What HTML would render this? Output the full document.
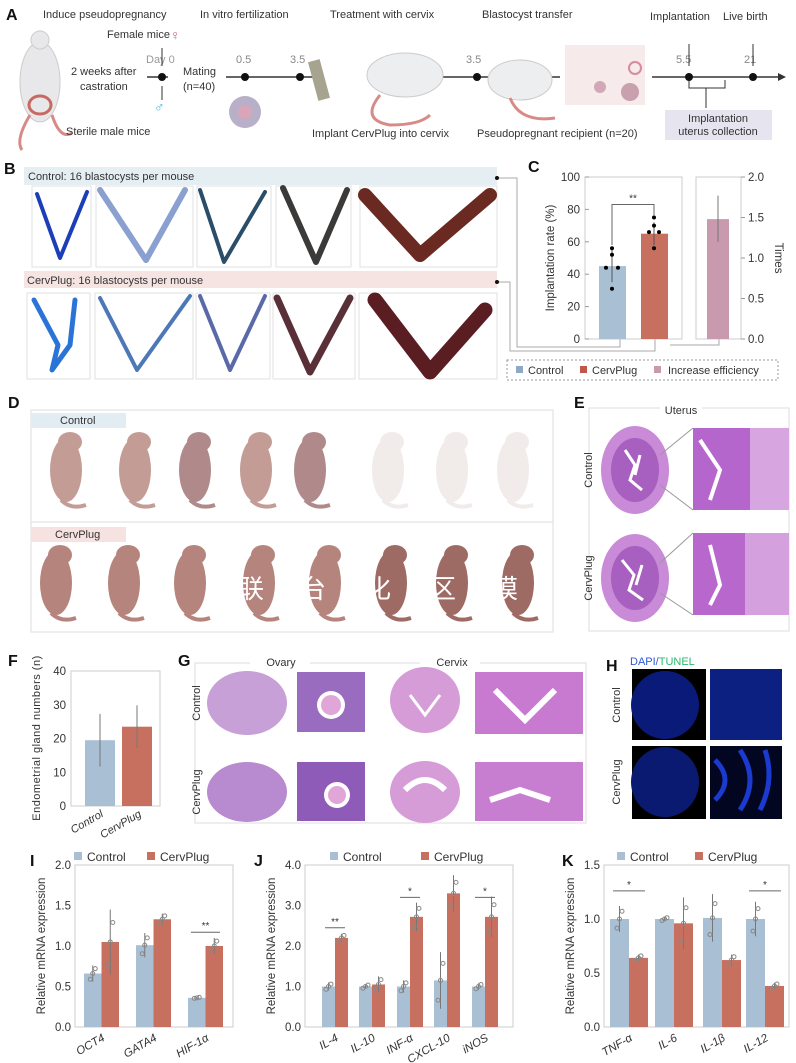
<!DOCTYPE html>
<html><head><meta charset="utf-8"><style>
html,body{margin:0;padding:0;background:#fff;}
svg{display:block;font-family:"Liberation Sans","Noto Sans CJK SC",sans-serif;}
.t{fill:#333;font-size:11px}
.L{font-weight:bold;font-size:16px;fill:#111}
</style></head><body>
<svg id="s" width="796" height="1063" viewBox="0 0 796 1063" xmlns="http://www.w3.org/2000/svg">
<rect width="796" height="1063" fill="#fff"/>
<text class="L" x="6" y="20">A</text>
<g>
<ellipse cx="40" cy="82" rx="20" ry="40" fill="#e8e8ea" stroke="#ccc"/>
<circle cx="40" cy="40" r="9" fill="#e8e8ea" stroke="#ccc"/>
<path d="M30 115 q-15 25 -8 35 M52 115 q8 25 20 18" stroke="#d98a86" stroke-width="3" fill="none"/>
<ellipse cx="40" cy="105" rx="11" ry="9" fill="none" stroke="#c76a63" stroke-width="3"/>
</g>
<g class="t" font-size="11">
<text x="43" y="18">Induce pseudopregnancy</text>
<text x="200" y="18">In vitro fertilization</text>
<text x="330" y="18">Treatment with cervix</text>
<text x="482" y="18">Blastocyst transfer</text>
<text x="650" y="20">Implantation</text>
<text x="723" y="20">Live birth</text>
<text x="107" y="38">Female mice</text>
<text x="146" y="63" fill="#999">Day 0</text>
<text x="71" y="75">2 weeks after</text>
<text x="80" y="90">castration</text>
<text x="183" y="75">Mating</text>
<text x="183" y="90">(n=40)</text>
<text x="236" y="63" fill="#888">0.5</text>
<text x="290" y="63" fill="#888">3.5</text>
<text x="466" y="63" fill="#888">3.5</text>
<text x="676" y="63" fill="#888">5.5</text>
<text x="744" y="63" fill="#888">21</text>
<text x="66" y="135">Sterile male mice</text>
<text x="312" y="137">Implant CervPlug into cervix</text>
<text x="477" y="137">Pseudopregnant recipient (n=20)</text>
</g>
<text x="170" y="40" fill="#d0607a" font-size="14">♀</text>
<text x="154" y="112" fill="#4ab0d8" font-size="14">♂</text>
<g stroke="#333" stroke-width="1.5">
<line x1="147" y1="77" x2="168" y2="77"/>
<line x1="226" y1="77" x2="320" y2="77"/>
<line x1="420" y1="77" x2="560" y2="77"/>
<line x1="652" y1="77" x2="778" y2="77"/>
<line x1="162" y1="48" x2="162" y2="66" stroke-width="1"/>
<line x1="162" y1="86" x2="162" y2="100" stroke-width="1"/>
<line x1="689" y1="44" x2="689" y2="66" stroke-width="1"/>
<line x1="753" y1="44" x2="753" y2="66" stroke-width="1"/>
<polyline points="689,80 689,88 725,88 725,80" fill="none" stroke-width="1"/>
<line x1="706" y1="88" x2="706" y2="108" stroke-width="1"/>
</g>
<polygon points="778,73 786,77 778,81" fill="#333"/>
<g fill="#111"><circle cx="162" cy="77" r="4"/><circle cx="245" cy="77" r="4"/><circle cx="300" cy="77" r="4"/><circle cx="477" cy="77" r="4"/><circle cx="689" cy="77" r="4"/><circle cx="753" cy="77" r="4"/></g>
<rect x="665" y="110" width="107" height="30" fill="#e6e4ee"/>
<text class="t" x="718" y="122" text-anchor="middle">Implantation</text>
<text class="t" x="718" y="135" text-anchor="middle">uterus collection</text>
<g>
<circle cx="245" cy="112" r="16" fill="#b8b0c8"/><circle cx="245" cy="112" r="7" fill="#d8a6b8"/>
<rect x="313" y="60" width="12" height="40" fill="#a6a38f" transform="rotate(-15 319 80)"/>
<ellipse cx="405" cy="75" rx="38" ry="22" fill="#eceef0" stroke="#ccc"/>
<path d="M380 95 q-20 25 10 30 q30 0 40 -10" stroke="#d98a86" stroke-width="3" fill="none"/>
<ellipse cx="520" cy="80" rx="32" ry="20" fill="#eceef0" stroke="#ccc"/>
<path d="M510 98 q10 25 45 20" stroke="#d98a86" stroke-width="3" fill="none"/>
<rect x="565" y="45" width="80" height="60" fill="#f6eaea"/>
<circle cx="635" cy="68" r="6" fill="none" stroke="#d98aa0" stroke-width="2"/>
<circle cx="630" cy="92" r="9" fill="#c9a0ae"/><circle cx="600" cy="87" r="6" fill="#d0a8b6"/>
</g>
<text class="L" x="4" y="174">B</text>
<rect x="24" y="167" width="473" height="18" fill="#e5eef3"/>
<text class="t" x="28" y="180" font-size="12">Control: 16 blastocysts per mouse</text>
<rect x="24" y="271" width="473" height="17" fill="#f6e4e2"/>
<text class="t" x="27" y="284" font-size="12">CervPlug: 16 blastocysts per mouse</text>
<g fill="none" stroke="#e2e2e2">
<rect x="32" y="186" width="59" height="81"/><rect x="96" y="186" width="97" height="81"/><rect x="197" y="186" width="74" height="81"/><rect x="276" y="186" width="75" height="81"/><rect x="360" y="186" width="137" height="81"/>
<rect x="27" y="293" width="63" height="86"/><rect x="95" y="293" width="98" height="86"/><rect x="196" y="293" width="74" height="86"/><rect x="273" y="293" width="82" height="86"/><rect x="359" y="293" width="138" height="86"/>
</g>
<g fill="none" stroke-linecap="round" stroke-linejoin="round">
<polyline points="37,194 60,258 87,192" stroke="#1c3fb8" stroke-width="4"/>
<polyline points="100,190 146,260 185,190" stroke="#8aa0d0" stroke-width="6"/>
<polyline points="200,190 224,262 265,192" stroke="#2a4e6a" stroke-width="4"/>
<polyline points="283,188 316,262 347,190" stroke="#3c3a38" stroke-width="6"/>
<polyline points="365,195 420,255 490,195" stroke="#6a2a22" stroke-width="14"/>
<polyline points="34,300 58,345 52,370 70,345 75,300" stroke="#2a74d8" stroke-width="5"/>
<polyline points="100,298 137,370 190,296" stroke="#4d78b8" stroke-width="4"/>
<polyline points="200,296 230,370 265,296" stroke="#5a6aa8" stroke-width="4"/>
<polyline points="277,298 310,372 350,298" stroke="#5a3038" stroke-width="7"/>
<polyline points="375,300 430,372 485,310" stroke="#5a1e22" stroke-width="15"/>
</g>
<g fill="none" stroke="#aaa" stroke-width="1">
<polyline points="497,178 517,178 517,347 620,347 620,339"/>
<polyline points="497,282 510,282 510,351 655,351 655,339"/>
<polyline points="670,345 719,345 719,339"/>
</g>
<circle cx="497" cy="178" r="2" fill="#111"/><circle cx="497" cy="282" r="2" fill="#111"/>
<text class="L" x="528" y="172">C</text>
<g id="C"></g>
<rect x="507" y="360" width="271" height="20" fill="none" stroke="#999" stroke-dasharray="2,2"/>
<rect x="516" y="366" width="7" height="7" fill="#8fa8c4"/><text class="t" x="528" y="374" font-size="11.5">Control</text>
<rect x="580" y="366" width="7" height="7" fill="#c0584a"/><text class="t" x="592" y="374" font-size="11.5">CervPlug</text>
<rect x="654" y="366" width="7" height="7" fill="#c99aad"/><text class="t" x="668" y="374" font-size="11.5">Increase efficiency</text>
<text class="L" x="8" y="408">D</text>
<rect x="31" y="410" width="522" height="222" fill="none" stroke="#ddd"/>
<line x1="31" y1="522" x2="553" y2="522" stroke="#ddd"/>
<rect x="31" y="413" width="95" height="15" fill="#e1ecf3"/><text class="t" x="60" y="424">Control</text>
<rect x="31" y="527" width="95" height="15" fill="#f6e2e0"/><text class="t" x="55" y="538">CervPlug</text>
<g id="D"></g>
<g fill="#fff" font-size="26" font-family="Noto Sans CJK SC,sans-serif"><text x="238" y="598">联</text><text x="300" y="598">台</text><text x="365" y="598">化</text><text x="430" y="598">区</text><text x="492" y="598">模</text></g>
<text class="L" x="574" y="408">E</text>
<rect x="589" y="408" width="200" height="223" fill="none" stroke="#ddd"/>
<rect x="660" y="403" width="42" height="12" fill="#fff"/>
<text class="t" x="681" y="414" text-anchor="middle">Uterus</text>
<text class="t" transform="translate(592,470) rotate(-90)" text-anchor="middle">Control</text>
<text class="t" transform="translate(592,578) rotate(-90)" text-anchor="middle">CervPlug</text>
<ellipse cx="635" cy="470" rx="34" ry="44" fill="#c98ad8"/><ellipse cx="635" cy="470" rx="24" ry="32" fill="#a75fc0"/>
<path d="M625 450 l10 15 l-5 15 l12 10 M640 455 l-5 20" stroke="#fff" stroke-width="3" fill="none"/>
<ellipse cx="635" cy="578" rx="34" ry="44" fill="#c98ad8"/><ellipse cx="635" cy="578" rx="24" ry="32" fill="#a75fc0"/>
<path d="M622 560 l12 15 l-5 15 l14 10 M642 565 l-6 20" stroke="#fff" stroke-width="3" fill="none"/>
<rect x="693" y="428" width="96" height="82" fill="#b566cc"/><rect x="693" y="533" width="96" height="82" fill="#b868cc"/>
<rect x="750" y="428" width="39" height="82" fill="#d7a6e0"/><rect x="745" y="533" width="44" height="82" fill="#d4a0de"/>
<path d="M700 440 l20 30 l-10 30 M710 545 l10 40 l-10 20" stroke="#fff" stroke-width="4" fill="none"/>
<g stroke="#999" fill="none"><polyline points="660,455 693,428"/><polyline points="660,485 693,510"/><polyline points="660,563 693,533"/><polyline points="660,593 693,615"/></g>
<text class="L" x="8" y="666">F</text>
<g id="F"></g>
<text class="L" x="178" y="666">G</text>
<rect x="195" y="663" width="391" height="160" fill="none" stroke="#ddd"/>
<rect x="250" y="656" width="60" height="14" fill="#fff"/><text class="t" x="281" y="666" text-anchor="middle">Ovary</text>
<rect x="420" y="656" width="60" height="14" fill="#fff"/><text class="t" x="452" y="666" text-anchor="middle">Cervix</text>
<text class="t" transform="translate(200,703) rotate(-90)" text-anchor="middle">Control</text>
<text class="t" transform="translate(200,792) rotate(-90)" text-anchor="middle">CervPlug</text>
<ellipse cx="247" cy="703" rx="40" ry="32" fill="#c8a0d8"/>
<rect x="297" y="672" width="68" height="60" fill="#9a6cc0"/><circle cx="331" cy="705" r="14" fill="#fff"/><circle cx="331" cy="705" r="10" fill="#e0a6d8"/>
<ellipse cx="425" cy="700" rx="35" ry="33" fill="#d69cd8"/><path d="M410 695 l15 20 l15 -20" stroke="#fff" stroke-width="3" fill="none"/>
<rect x="475" y="672" width="108" height="62" fill="#c77ad0"/><path d="M495 690 l30 30 l30 -30" stroke="#fff" stroke-width="6" fill="none"/>
<ellipse cx="247" cy="792" rx="40" ry="30" fill="#b88ad0"/>
<rect x="297" y="762" width="68" height="59" fill="#8e5cb8"/><circle cx="337" cy="795" r="13" fill="#fff"/><circle cx="337" cy="795" r="9" fill="#e0a6d8"/>
<ellipse cx="425" cy="792" rx="35" ry="31" fill="#d69cd8"/><path d="M405 790 q20 -20 40 0" stroke="#fff" stroke-width="6" fill="none"/>
<rect x="475" y="762" width="108" height="59" fill="#c87ed0"/><path d="M490 800 l30 -10 l30 10" stroke="#fff" stroke-width="6" fill="none"/>
<text class="L" x="606" y="671">H</text>
<text x="630" y="665" font-size="11" fill="#2a5ad8">DAPI/<tspan fill="#2fb870">TUNEL</tspan></text>
<rect x="632" y="669" width="74" height="71" fill="#000"/><rect x="710" y="669" width="72" height="71" fill="#030838"/>
<rect x="632" y="746" width="74" height="73" fill="#000"/><rect x="710" y="746" width="72" height="73" fill="#020620"/>
<ellipse cx="665" cy="705" rx="34" ry="34" fill="#0a1a78"/><ellipse cx="665" cy="782" rx="34" ry="35" fill="#0a1a70"/>
<rect x="710" y="669" width="72" height="71" fill="#1030b0" opacity=".6"/>
<path d="M715 760 q20 20 0 40 M740 750 q20 30 0 60 M765 750 q10 30 -5 60" stroke="#1a3ad0" stroke-width="5" fill="none"/>
<text class="t" transform="translate(620,705) rotate(-90)" text-anchor="middle">Control</text>
<text class="t" transform="translate(620,782) rotate(-90)" text-anchor="middle">CervPlug</text>
<text class="L" x="30" y="866">I</text>
<text class="L" x="254" y="866">J</text>
<text class="L" x="562" y="866">K</text>
<g id="IJK"></g>
</svg>
<script>
const NS="http://www.w3.org/2000/svg";
function el(p,t,a,txt){const e=document.createElementNS(NS,t);for(const k in a)e.setAttribute(k,a[k]);if(txt!==undefined)e.textContent=txt;p.appendChild(e);return e;}
const BL="#a9bfd4",RD="#c8705f",TX="#333";
(function(){const g=document.getElementById('C');
const y=v=>339-v*1.62;
el(g,'rect',{x:585,y:177,width:97,height:162,fill:'none',stroke:'#ccc'});
el(g,'rect',{x:696,y:177,width:45,height:162,fill:'none',stroke:'#ccc'});
[0,20,40,60,80,100].forEach(v=>{el(g,'text',{x:580,y:y(v)+4,'text-anchor':'end','font-size':11.5,fill:TX},v);el(g,'line',{x1:585,x2:589,y1:y(v),y2:y(v),stroke:'#999'});});
el(g,'text',{transform:'translate(554,258) rotate(-90)','text-anchor':'middle','font-size':11.5,fill:TX},'Implantation rate (%)');
el(g,'rect',{x:599,y:y(45),width:27,height:339-y(45),fill:BL});
el(g,'rect',{x:641,y:y(65),width:27,height:339-y(65),fill:RD});
el(g,'line',{x1:612,x2:612,y1:y(35),y2:y(55),stroke:'#555'});el(g,'line',{x1:654,x2:654,y1:y(58),y2:y(72),stroke:'#555'});
[[612,56],[612,52],[606,44],[618,44],[612,31],[654,75],[654,70],[649,66],[659,66],[654,56]].forEach(p=>el(g,'circle',{cx:p[0],cy:y(p[1]),r:2,fill:'#000'}));
el(g,'polyline',{points:`612,${y(58)} 612,${y(83)} 654,${y(83)} 654,${y(76)}`,fill:'none',stroke:'#666'});
el(g,'text',{x:633,y:y(85),'text-anchor':'middle','font-size':10,fill:TX},'**');
const t=v=>339-v*81;
el(g,'rect',{x:707,y:t(1.48),width:22,height:339-t(1.48),fill:'#c99aad'});
el(g,'line',{x1:718,x2:718,y1:t(1.2),y2:t(1.77),stroke:'#777'});
['0.0','0.5','1.0','1.5','2.0'].forEach(v=>{el(g,'line',{x1:741,x2:745,y1:t(+v),y2:t(+v),stroke:'#999'});el(g,'text',{x:748,y:t(+v)+4,'font-size':11.5,fill:TX},v);});
el(g,'text',{transform:'translate(775,258) rotate(90)','text-anchor':'middle','font-size':11.5,fill:TX},'Times');
})();
(function(){const g=document.getElementById('D');
const r1=[66,135,195,256,310,388,452,513],r2=[56,124,190,259,325,391,452,518];
r1.forEach((x,i)=>{const c=i>=5?'#f1ebea':(i==2||i==4?'#b08a8a':'#c49c96');pup(g,x,470,c);});
r2.forEach((x,i)=>{pup(g,x,583,i>4?'#9e6a64':'#b5847c');});
function pup(g,x,y,c){el(g,'ellipse',{cx:x,cy:y,rx:16,ry:32,fill:c});el(g,'ellipse',{cx:x+4,cy:y-28,rx:12,ry:10,fill:c});el(g,'path',{d:`M${x-5} ${y+30} q10 10 25 5`,stroke:c,'stroke-width':4,fill:'none'});}
})();
(function(){const g=document.getElementById('F');const y=v=>806-v*3.375;
el(g,'rect',{x:71,y:671,width:89,height:135,fill:'none',stroke:'#ccc'});
[0,10,20,30,40].forEach(v=>el(g,'text',{x:66,y:y(v)+4,'text-anchor':'end','font-size':11.5,fill:TX},v));
el(g,'text',{transform:'translate(40,738) rotate(-90)','text-anchor':'middle','font-size':11,fill:TX,'letter-spacing':'0.5'},'Endometrial gland numbers (n)');
el(g,'rect',{x:85,y:y(19.5),width:30,height:806-y(19.5),fill:BL});
el(g,'rect',{x:122,y:y(23.5),width:30,height:806-y(23.5),fill:RD});
el(g,'line',{x1:100,x2:100,y1:y(11.7),y2:y(27.3),stroke:'#777'});el(g,'line',{x1:137,x2:137,y1:y(17.2),y2:y(29.8),stroke:'#777'});
el(g,'text',{transform:'translate(104,816) rotate(-30)','text-anchor':'end','font-size':11,fill:TX,'font-style':'italic'},'Control');
el(g,'text',{transform:'translate(142,816) rotate(-30)','text-anchor':'end','font-size':11,fill:TX,'font-style':'italic'},'CervPlug');
})();
(function(){const g=document.getElementById('IJK');
function chart(o){const y=v=>1027-v*o.k;
el(g,'rect',{x:o.x0,y:865,width:o.x1-o.x0,height:162,fill:'none',stroke:'#ccc'});
o.ticks.forEach(v=>{el(g,'text',{x:o.x0-4,y:y(+v)+4,'text-anchor':'end','font-size':11.5,fill:TX},v);});
el(g,'text',{transform:`translate(${o.x0-30},946) rotate(-90)`,'text-anchor':'middle','font-size':11.5,fill:TX},'Relative mRNA expression');
el(g,'rect',{x:o.lx,y:852,width:8,height:8,fill:BL});el(g,'text',{x:o.lx+13,y:861,'font-size':12,fill:TX},'Control');
el(g,'rect',{x:o.lx2,y:852,width:8,height:8,fill:RD});el(g,'text',{x:o.lx2+13,y:861,'font-size':12,fill:TX},'CervPlug');
o.g.forEach((d,i)=>{const x=o.c[i];
el(g,'rect',{x:x,y:y(d[0]),width:o.w,height:1027-y(d[0]),fill:BL});
el(g,'rect',{x:x+o.w,y:y(d[1]),width:o.w,height:1027-y(d[1]),fill:RD});
[[0,d[2]],[1,d[3]]].forEach(([j,e])=>{const cx=x+o.w*j+o.w/2,v=d[j];el(g,'line',{x1:cx,x2:cx,y1:y(v-e),y2:y(v+e),stroke:'#777'});
[-e*.7,0,e*.6].forEach((dd,k)=>el(g,'circle',{cx:cx+(k-1)*2.5,cy:y(v+dd),r:2,fill:'none',stroke:'#888'}));});
el(g,'text',{transform:`translate(${x+o.w+4},1040) rotate(-30)`,'text-anchor':'end','font-size':11.5,fill:TX,'font-style':'italic'},d[4]);
if(d[5]){el(g,'line',{x1:x+3,x2:x+2*o.w-3,y1:y(d[6]),y2:y(d[6]),stroke:'#666'});el(g,'text',{x:x+o.w,y:y(d[6])-3,'text-anchor':'middle','font-size':10,fill:TX},d[5]);}
});}
chart({x0:75,x1:233,k:81,ticks:['0.0','0.5','1.0','1.5','2.0'],lx:74,lx2:147,w:17.5,c:[84,136,188],
g:[[0.66,1.05,0.1,0.4,'OCT4'],[1.01,1.33,0.15,0.07,'GATA4'],[0.36,1.0,0.01,0.1,'HIF-1α','**',1.17]]});
chart({x0:305,x1:513,k:40.5,ticks:['0.0','1.0','2.0','3.0','4.0'],lx:330,lx2:421,w:13,c:[322,359,397,434,472],
g:[[1.0,2.2,0.1,0.1,'IL-4','**',2.45],[1.0,1.05,0.06,0.2,'IL-10'],[1.0,2.72,0.15,0.35,'INF-α','*',3.2],[1.15,3.3,0.7,0.45,'CXCL-10'],[1.0,2.72,0.08,0.5,'iNOS','*',3.2]]});
chart({x0:604,x1:789,k:108,ticks:['0.0','0.5','1.0','1.5'],lx:617,lx2:695,w:19,c:[610,655,703,746],
g:[[1.0,0.64,0.12,0.03,'TNF-α','*',1.26],[1.0,0.96,0.02,0.24,'IL-6'],[1.01,0.62,0.22,0.05,'IL-1β'],[1.0,0.38,0.16,0.03,'IL-12','*',1.26]]});
})();
</script>
</body></html>
